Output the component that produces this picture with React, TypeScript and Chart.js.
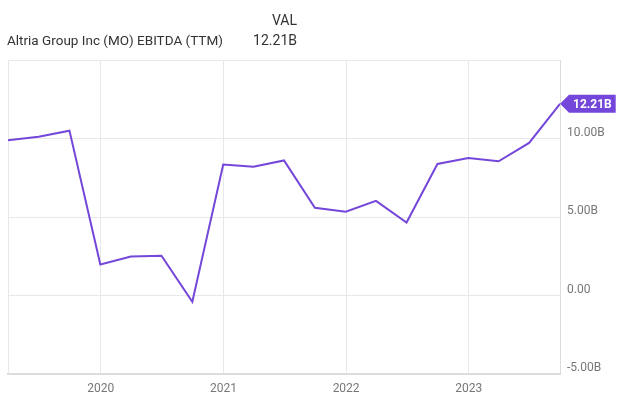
import React, { useEffect, useRef } from "react";
import { Chart, registerables } from "chart.js";

Chart.register(...registerables);

const dates = [
  "2019-03-31", "2019-06-30", "2019-09-30", "2019-12-31",
  "2020-03-31", "2020-06-30", "2020-09-30", "2020-12-31",
  "2021-03-31", "2021-06-30", "2021-09-30", "2021-12-31",
  "2022-03-31", "2022-06-30", "2022-09-30", "2022-12-31",
  "2023-03-31", "2023-06-30", "2023-09-30",
];
const ebitda = [
  9.89, 10.11, 10.5, 1.97,
  2.48, 2.53, -0.4, 8.34,
  8.2, 8.6, 5.59, 5.34,
  6.03, 4.65, 8.38, 8.76,
  8.55, 9.72, 12.21,
];
const yearTicks = [2020, 2021, 2022, 2023];
const yTicks = [-5, 0, 5, 10, 15];
const title = "Altria Group Inc (MO) EBITDA (TTM)";
const lastLabel = "12.21B";

const PURPLE = "#7446d9";
const GRID = "#e8e8e8";

export default function App() {
  const ref = useRef<HTMLCanvasElement>(null);
  useEffect(() => {
    const xs = dates.map((d) => Date.parse(d));
    const framePlugin = {
      id: "frame",
      beforeDatasetsDraw(chart: any) {
        const { ctx, chartArea } = chart;
        ctx.save();
        ctx.strokeStyle = GRID;
        ctx.lineWidth = 1;
        ctx.beginPath();
        ctx.moveTo(chartArea.left + 0.5, chartArea.bottom);
        ctx.lineTo(chartArea.left + 0.5, chartArea.top + 0.5);
        ctx.lineTo(chartArea.right, chartArea.top + 0.5);
        ctx.stroke();
        ctx.restore();
      },
    };
    const tagPlugin = {
      id: "tag",
      afterDatasetsDraw(chart: any) {
        const meta = chart.getDatasetMeta(0);
        const pt = meta.data[meta.data.length - 1];
        if (!pt) return;
        const { ctx } = chart;
        const x = pt.x;
        const y = pt.y;
        const h = 18;
        ctx.save();
        ctx.font = "bold 12px Roboto";
        const w = ctx.measureText(lastLabel).width + 8;
        ctx.fillStyle = PURPLE;
        ctx.beginPath();
        ctx.moveTo(x, y);
        ctx.lineTo(x + 9, y - h / 2);
        ctx.lineTo(x + 9 + w, y - h / 2);
        ctx.lineTo(x + 9 + w, y + h / 2);
        ctx.lineTo(x + 9, y + h / 2);
        ctx.closePath();
        ctx.fill();
        ctx.fillStyle = "#ffffff";
        ctx.textBaseline = "middle";
        ctx.textAlign = "left";
        ctx.fillText(lastLabel, x + 13, y + 1);
        ctx.restore();
      },
    };
    const chart = new Chart(ref.current!, {
      type: "line",
      data: {
        datasets: [
          {
            data: xs.map((x, i) => ({ x, y: ebitda[i] })),
            borderColor: PURPLE,
            borderWidth: 2,
            pointRadius: 0,
            tension: 0,
          },
        ],
      },
      options: {
        animation: false,
        responsive: false,
        maintainAspectRatio: false,
        layout: { padding: { top: 60, left: 8, right: 0, bottom: 0 } },
        plugins: { legend: { display: false }, tooltip: { enabled: false } },
        scales: {
          x: {
            type: "linear",
            min: xs[0],
            max: xs[xs.length - 1],
            afterBuildTicks(scale: any) {
              scale.ticks = yearTicks.map((y) => ({ value: Date.UTC(y, 0, 1) }));
            },
            afterFit(scale: any) {
              scale.height = 25;
            },
            grid: { color: GRID, drawTicks: false },
            border: { display: true, color: "#dcdcdc", width: 2 },
            ticks: {
              color: "#777",
              font: { family: "Roboto", size: 12 },
              padding: 8,
              maxRotation: 0,
              callback: (v: any) => String(new Date(v).getUTCFullYear()),
            },
          },
          y: {
            position: "right",
            min: -5,
            max: 15,
            afterBuildTicks(scale: any) {
              scale.ticks = yTicks.map((v) => ({ value: v }));
            },
            afterFit(scale: any) {
              scale.width = 80;
            },
            grid: { color: GRID, drawTicks: false },
            border: { display: true, color: "#dcdcdc", width: 1 },
            ticks: {
              color: "#777",
              font: { family: "Roboto", size: 12 },
              padding: 7,
              labelOffset: -6,
              callback: (v: any) =>
                v === 15 ? "" : v === 0 ? "0.00" : v.toFixed(2) + "B",
            },
          },
        },
      },
      plugins: [framePlugin, tagPlugin],
    });
    return () => chart.destroy();
  }, []);

  return (
    <div
      style={{
        position: "fixed",
        left: 0,
        top: 0,
        width: 640,
        height: 399,
        background: "#fff",
        fontFamily: "Roboto",
        color: "#333",
      }}
    >
      <canvas ref={ref} width={640} height={399} style={{ position: "absolute", left: 0, top: 0 }} />
      <div style={{ position: "absolute", right: 343, top: 12, fontSize: 14, lineHeight: "16px" }}>VAL</div>
      <div style={{ position: "absolute", left: 7, top: 32, fontSize: 13.5, lineHeight: "16px" }}>{title}</div>
      <div style={{ position: "absolute", right: 343, top: 32, fontSize: 14, lineHeight: "16px" }}>{lastLabel}</div>
    </div>
  );
}
